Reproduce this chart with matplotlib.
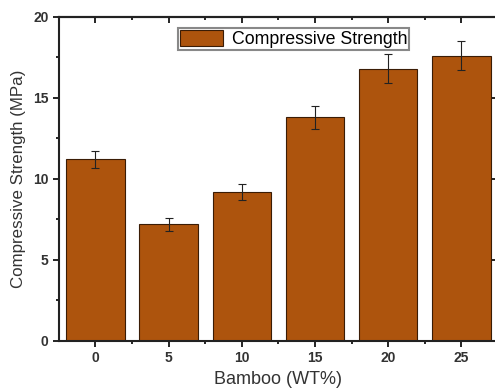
import matplotlib.pyplot as plt
import numpy as np

plt.rcParams['font.family'] = ['Liberation Sans', 'DejaVu Sans']

bamboo = ['0', '5', '10', '15', '20', '25']
strength = [11.2, 7.2, 9.2, 13.8, 16.8, 17.6]
strength_err = [0.55, 0.4, 0.5, 0.7, 0.9, 0.9]

fig = plt.figure(figsize=(4.95, 3.91), dpi=100)
ax = fig.add_axes([0.119, 0.128, 0.887, 0.829])

x = np.arange(len(bamboo))
ax.bar(x, strength, width=0.8, color='#AD540D', edgecolor='#3a1c05', linewidth=0.8,
       label='Compressive Strength')
ax.errorbar(x, strength, yerr=strength_err, fmt='none', ecolor='#222222',
            elinewidth=0.8, capsize=3, capthick=0.8)

ax.set_xlim(-0.5, 5.5)
ax.set_ylim(0, 20)
ax.set_xticks(x)
ax.set_xticklabels(bamboo)
ax.set_xticks(x[:-1] + 0.5, minor=True)
ax.set_yticks([0, 5, 10, 15, 20])
ax.set_yticks([2.5, 7.5, 12.5, 17.5], minor=True)

ax.tick_params(which='both', direction='out', width=1.2,
               labelsize=10, labelcolor='#333333')
ax.tick_params(which='major', length=4)
ax.tick_params(which='minor', length=2.5)
# inward ticks on the top and right spines
ax2 = ax.secondary_xaxis('top')
ax2.set_xticks(x)
ax2.set_xticks(x[:-1] + 0.5, minor=True)
ax2.tick_params(which='both', direction='in', width=1.2, labeltop=False)
ax2.tick_params(which='major', length=4)
ax2.tick_params(which='minor', length=2.5)
ax2.spines['top'].set_linewidth(1.5)
ax3 = ax.secondary_yaxis('right')
ax3.set_yticks([0, 5, 10, 15, 20])
ax3.set_yticks([2.5, 7.5, 12.5, 17.5], minor=True)
ax3.tick_params(which='both', direction='in', width=1.2, labelright=False)
ax3.tick_params(which='major', length=4)
ax3.tick_params(which='minor', length=2.5)

for t in ax.get_xticklabels() + ax.get_yticklabels():
    t.set_fontweight('bold')
for s in ax.spines.values():
    s.set_linewidth(1.5)
    s.set_color('#222222')

ax.set_xlabel('Bamboo (WT%)', fontsize=13, color='#333333', labelpad=4)
ax.set_ylabel('Compressive Strength (MPa)', fontsize=12.2, color='#333333', labelpad=5)

leg = ax.legend(loc='upper center', bbox_to_anchor=(0.535, 0.993), fontsize=12.8,
                fancybox=False, edgecolor='#888888', handlelength=2.4,
                handleheight=1.0, handletextpad=0.5, borderpad=0.12, framealpha=1)
leg.get_frame().set_linewidth(1.5)

plt.savefig('out.png', dpi=100)
